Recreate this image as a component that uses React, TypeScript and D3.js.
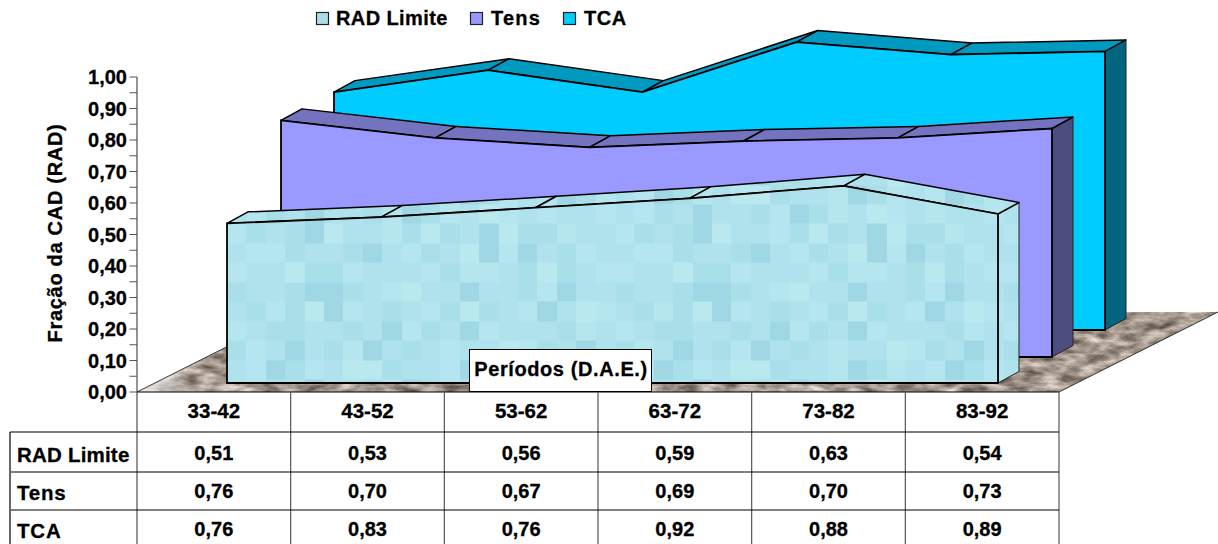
import React from "react";
import * as d3 from "d3";

const categories = ["33-42", "43-52", "53-62", "63-72", "73-82", "83-92"];
const seriesNames = ["TCA", "Tens", "RAD Limite"];
const tcaValues = [0.76, 0.83, 0.76, 0.92, 0.88, 0.89];
const tensValues = [0.756, 0.7, 0.67, 0.69, 0.7, 0.73];
const radValues = [0.51, 0.53, 0.56, 0.59, 0.63, 0.54];
const yTicks = d3.range(0, 11).map((d) => d / 10);
const minorTicks = d3.range(0, 10).map((d) => d / 10 + 0.05);
const tableRows = ["RAD Limite", "Tens", "TCA"];

// mosaic shades of the RAD Limite texture
const mosaicShades = ["#b5e6ef", "#afe2ec", "#a9dfe9", "#9fd8e4", "#b9e8ee"];
const mosaicRows = [
  "10213112032014010110",
  "02123411024213422011",
  "10021123102143031201",
  "01142201110200124210",
  "21123321041131120311",
  "12024301210242103140",
  "01221121302130111201",
  "20131203121011402131",
  "10320144211032010320",
];

const fmt = (v: number) => v.toFixed(2).replace(".", ",");
const FONT = "'Liberation Sans', Arial, sans-serif";
const W = 1218;
const H = 544;

const y = d3.scaleLinear().domain([0, 1]).range([392, 77]);
const heightOf = d3.scaleLinear().domain([0, 1]).range([0, 313]);
const xInner = d3.scalePoint<string>().domain(categories).range([0, 771]);
const colEdges = d3.scaleLinear().domain([0, 6]).range([137, 1059]);

const dx = 21;
const dy = -11.5;

type S = {
  name: string;
  values: number[];
  x0: number;
  base: number;
  front: string;
  top: string;
  side: string;
};
const series: S[] = [
  { name: seriesNames[0], values: tcaValues, x0: 334, base: 330, front: "#00ccff", top: "#0099bf", side: "#006680" },
  { name: seriesNames[1], values: tensValues, x0: 281, base: 357, front: "#9999ff", top: "#7373bf", side: "#4d4d80" },
  { name: seriesNames[2], values: radValues, x0: 227, base: 383, front: "url(#mosaic)", top: "url(#mosaic)", side: "url(#mosaic)" },
];

const pts = (a: [number, number][]) => a.map((p) => p.join(",")).join(" ");

function Area3D({ s }: { s: S }) {
  const p: [number, number][] = s.values.map((v, i) => [
    s.x0 + (xInner(categories[i]) as number),
    s.base - heightOf(v),
  ]);
  const last = p[p.length - 1];
  const area = d3
    .area<[number, number]>()
    .x((d) => d[0])
    .y0(s.base)
    .y1((d) => d[1])(p) as string;
  return (
    <g>
      <polygon
        points={pts([
          last,
          [last[0] + dx, last[1] + dy],
          [last[0] + dx, s.base + dy],
          [last[0], s.base],
        ])}
        fill={s.side}
        stroke="#222"
        strokeWidth={1}
      />
      {p.slice(0, -1).map((a, i) => {
        const b = p[i + 1];
        return (
          <polygon
            key={i}
            points={pts([a, b, [b[0] + dx, b[1] + dy], [a[0] + dx, a[1] + dy]])}
            fill={s.top}
            stroke="#000"
            strokeWidth={1.5}
            strokeLinejoin="round"
          />
        );
      })}
      <path d={area} fill={s.front} stroke="#000" strokeWidth={1.8} strokeLinejoin="miter" />
    </g>
  );
}

export default function App() {
  const textBase = {
    fontFamily: FONT,
    fontWeight: 700,
    fill: "#000",
    stroke: "#000",
    strokeWidth: 0.3,
  } as const;
  return (
    <svg
      width={W}
      height={H}
      viewBox={`0 0 ${W} ${H}`}
      style={{ position: "absolute", left: 0, top: 0, background: "#fff", display: "block" }}
    >
      <defs>
        <pattern id="mosaic" patternUnits="userSpaceOnUse" x={227} y={204.5} width={388} height={175}>
          {mosaicRows.map((row, r) =>
            row.split("").map((c, k) => (
              <rect
                key={`${r}-${k}`}
                x={k * 19.4}
                y={r * 19.45}
                width={19.6}
                height={19.65}
                fill={mosaicShades[+c]}
                shapeRendering="crispEdges"
              />
            ))
          )}
        </pattern>
        <filter id="granite" x="0" y="0" width="100%" height="100%" colorInterpolationFilters="sRGB">
          <feTurbulence type="fractalNoise" baseFrequency="0.05 0.13" numOctaves={4} seed={7} result="n" />
          <feColorMatrix
            in="n"
            type="matrix"
            values="0.85 0 0 0 0.22  0.85 0 0 0 0.17  0.85 0 0 0 0.13  0 0 0 0 1"
            result="c"
          />
          <feComposite in="c" in2="SourceGraphic" operator="in" />
        </filter>
        <linearGradient id="tipFade" gradientUnits="userSpaceOnUse" x1={140} y1={392} x2={195} y2={372}>
          <stop offset="0" stopColor="#fff" stopOpacity={0.85} />
          <stop offset="1" stopColor="#fff" stopOpacity={0} />
        </linearGradient>
      </defs>

      {/* floor */}
      <polygon points="137,392 1059,392 1218,312 296,312" fill="#a59a90" filter="url(#granite)" />
      <polygon points="137,392 200,392 230,346 215,347" fill="url(#tipFade)" />
      <path d="M137,392 L296,312 M1059,392 L1218,312" stroke="#333" strokeWidth={1} fill="none" />

      {series.map((s) => (
        <Area3D key={s.name} s={s} />
      ))}

      {/* y axis */}
      <line x1={137} x2={137} y1={y(1)} y2={544} stroke="#666" strokeWidth={1.4} />
      {[...yTicks, ...minorTicks].map((t) => (
        <line key={t} x1={129.5} x2={137} y1={y(t)} y2={y(t)} stroke="#555" strokeWidth={1} />
      ))}
      {yTicks.map((t) => (
        <text key={t} {...textBase} x={127} y={y(t) + 7} fontSize={20} textAnchor="end">
          {fmt(t)}
        </text>
      ))}
      <text
        {...textBase}
        fontSize={20}
        textAnchor="middle"
        letterSpacing={0.7}
        transform="translate(62,233) rotate(-90)"
      >
        Fração da CAD (RAD)
      </text>

      {/* data table */}
      <line x1={137} x2={1059} y1={392} y2={392} stroke="#000" strokeWidth={1.2} />
      {d3.range(1, 7).map((i) => (
        <line key={i} x1={colEdges(i)} x2={colEdges(i)} y1={392} y2={544} stroke="#555" strokeWidth={1.2} />
      ))}
      <line x1={10} x2={1059} y1={432} y2={432} stroke="#000" strokeWidth={1.2} />
      <line x1={11} x2={1059} y1={472} y2={472} stroke="#000" strokeWidth={1.2} />
      <line x1={11} x2={1059} y1={510} y2={510} stroke="#000" strokeWidth={1.2} />
      <line x1={10} x2={10} y1={432} y2={544} stroke="#000" strokeWidth={1.2} />

      {categories.map((c, i) => (
        <text key={c} {...textBase} x={colEdges(i + 0.5)} y={418} fontSize={20.5} textAnchor="middle">
          {c}
        </text>
      ))}
      {tableRows.map((name, r) => {
        const vals = [radValues, tensValues, tcaValues][r];
        const rowY = [460, 498, 536][r];
        return (
          <g key={name}>
            <text {...textBase} x={17} y={rowY + 2} fontSize={20.5} letterSpacing={name === "RAD Limite" ? 0.2 : 0.8}>
              {name}
            </text>
            {vals.map((v, i) => (
              <text key={i} {...textBase} x={colEdges(i + 0.5)} y={rowY} fontSize={20} textAnchor="middle">
                {fmt(v)}
              </text>
            ))}
          </g>
        );
      })}

      {/* axis title box */}
      <rect x={469.5} y={349.5} width={182} height={42} fill="#fff" stroke="#000" strokeWidth={1} />
      <text {...textBase} x={561} y={376} fontSize={20} textAnchor="middle" letterSpacing={0.6}>
        Períodos (D.A.E.)
      </text>

      {/* legend */}
      {[
        { name: "RAD Limite", fill: "#aedfe9", sx: 316, tx: 336, ls: 0.4 },
        { name: "Tens", fill: "#9999ff", sx: 470, tx: 491, ls: 1.2 },
        { name: "TCA", fill: "#00ccff", sx: 563, tx: 584, ls: 0.5 },
      ].map((l) => (
        <g key={l.name}>
          <rect x={l.sx + 0.5} y={12.5} width={12} height={12} fill={l.fill} stroke="#222" strokeWidth={1.2} />
          <text {...textBase} x={l.tx} y={25} fontSize={20} letterSpacing={l.ls}>
            {l.name}
          </text>
        </g>
      ))}
    </svg>
  );
}
